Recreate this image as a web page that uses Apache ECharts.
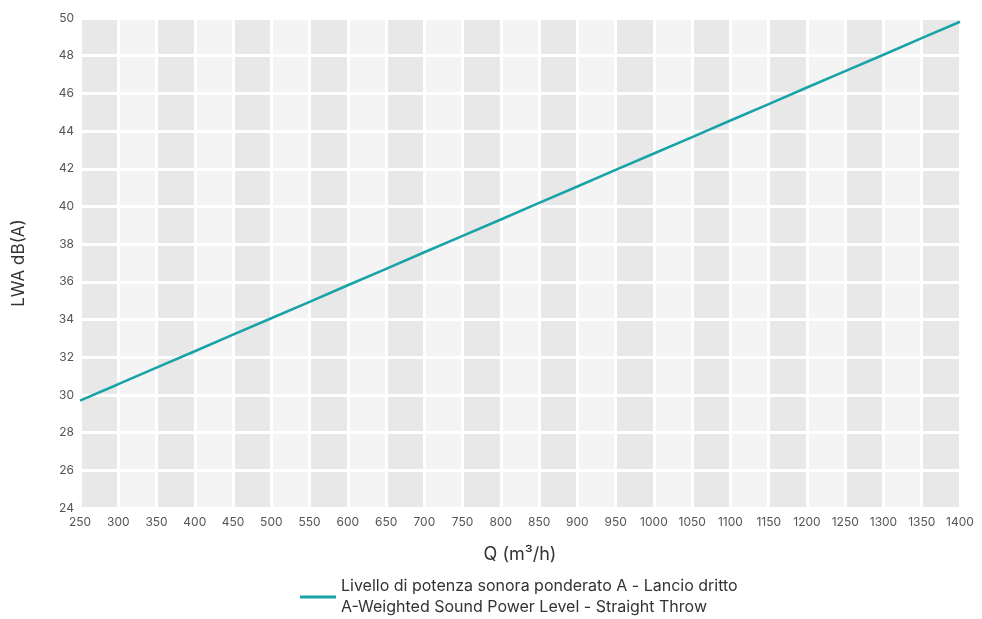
<!DOCTYPE html>
<html>
<head>
<meta charset="utf-8">
<script src="https://cdn.jsdelivr.net/npm/echarts@6/dist/echarts.min.js"></script>
<style>
html,body{margin:0;padding:0;background:#fff;}
#chart{width:982px;height:619px;}
</style>
</head>
<body>
<div id="chart"></div>
<script>
var flowQ = [250,300,350,400,450,500,550,600,650,700,750,800,850,900,950,1000,1050,1100,1150,1200,1250,1300,1350,1400];
var lwaValues = [29.70,30.57,31.45,32.32,33.20,34.07,34.94,35.82,36.69,37.57,38.44,39.31,40.19,41.06,41.94,42.81,43.68,44.56,45.43,46.31,47.18,48.05,48.93,49.80];
var seriesName = 'Livello di potenza sonora ponderato A - Lancio dritto\nA-Weighted Sound Power Level - Straight Throw';
var xName = 'Q (m³/h)';
var yName = 'LWA dB(A)';

var chart = echarts.init(document.getElementById('chart'), null, {renderer:'canvas'});
var font = 'Inter, "Noto Sans", sans-serif';
chart.setOption({
  backgroundColor:'#ffffff',
  animation:false,
  textStyle:{fontFamily:font},
  grid:{left:80,right:22,top:18,bottom:111,containLabel:false},
  legend:{
    left:295, top:571,
    icon:'rect', itemWidth:36, itemHeight:3, itemGap:0,
    textStyle:{fontSize:16,color:'#333',lineHeight:21,fontFamily:font},
    data:[seriesName]
  },
  xAxis:{
    type:'value', min:250, max:1400, interval:50, z:0,
    name:xName, nameLocation:'middle', nameGap:38,
    nameTextStyle:{fontSize:18,color:'#333',fontFamily:font},
    axisLine:{show:false}, axisTick:{show:false},
    axisLabel:{fontSize:12,color:'#555',margin:8,fontFamily:font,formatter:function(v){return String(v);}},
    splitLine:{show:true,lineStyle:{color:'#ffffff',width:3}},
    splitArea:{show:true,areaStyle:{color:['#e8e8e8','#f4f4f4']}}
  },
  yAxis:{
    type:'value', min:24, max:50, interval:2, z:3,
    name:yName, nameLocation:'middle', nameGap:53,
    nameTextStyle:{fontSize:17,color:'#333',fontFamily:font},
    axisLine:{show:false}, axisTick:{show:false},
    axisLabel:{fontSize:12,color:'#555',margin:6,fontFamily:font,formatter:function(v){return String(v);}},
    splitLine:{show:true,lineStyle:{color:'#ffffff',width:3}},
    splitArea:{show:false}
  },
  series:[{
    name:seriesName,
    type:'line',
    data:flowQ.map(function(q,i){return [q,lwaValues[i]];}),
    showSymbol:false,
    symbol:'none',
    lineStyle:{color:'#18a3a7',width:2.6},
    itemStyle:{color:'#18a3a7'},
    z:5
  }]
});
</script>
</body>
</html>
